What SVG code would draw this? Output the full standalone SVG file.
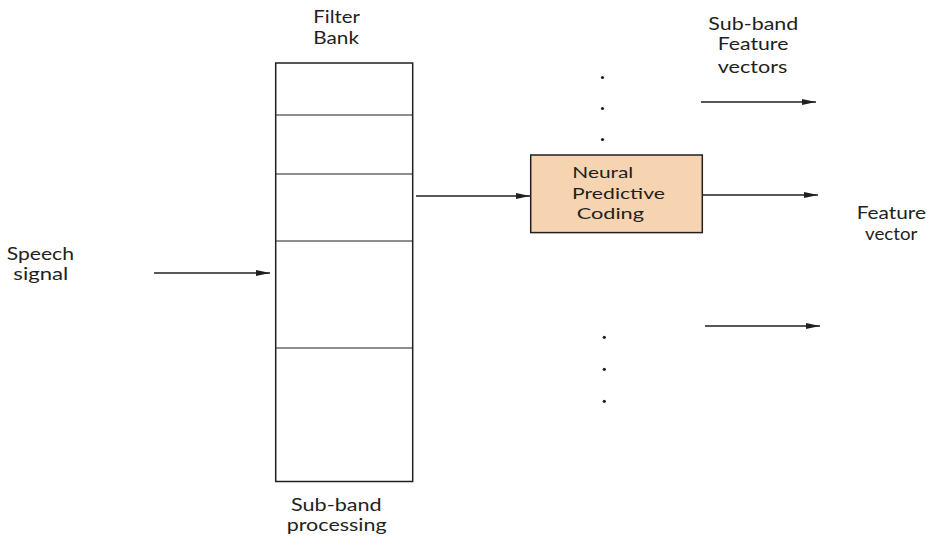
<svg xmlns="http://www.w3.org/2000/svg" width="934" height="537" viewBox="0 0 934 537">
  <style>
    .lbl { font-family: Lato, "Open Sans", "Liberation Sans", sans-serif; font-size: 16.5px; fill: #231f20; }
    .small { font-size: 15px; }
    .box { fill: none; stroke: #231f20; stroke-width: 1.5; }
    .div { stroke: #231f20; stroke-width: 1.2; }
    .npc { fill: #f7d4b1; stroke: #231f20; stroke-width: 1.5; }
    .wire { fill: none; stroke: #231f20; stroke-width: 1.3; marker-end: url(#arrow); }
    .dot { fill: #231f20; }
  </style>
  <defs>
    <marker id="arrow" markerUnits="userSpaceOnUse" markerWidth="14" markerHeight="6" refX="14" refY="3" orient="auto">
      <path d="M0,0 L14,3 L0,6 z" fill="#231f20"/>
    </marker>
  </defs>
  <rect width="934" height="537" fill="#ffffff"/>

  <!-- Filter bank with sub-band divisions -->
  <g id="filter-bank">
    <text class="lbl" x="313.3" y="23" textLength="46.7" lengthAdjust="spacingAndGlyphs">Filter</text>
    <text class="lbl" x="313.3" y="43.5" textLength="45.7" lengthAdjust="spacingAndGlyphs">Bank</text>
    <rect class="box" x="275.7" y="63" width="137" height="418.5"/>
    <line class="div" x1="275.7" y1="115" x2="412.7" y2="115"/>
    <line class="div" x1="275.7" y1="174" x2="412.7" y2="174"/>
    <line class="div" x1="275.7" y1="241" x2="412.7" y2="241"/>
    <line class="div" x1="275.7" y1="348" x2="412.7" y2="348"/>
    <text class="lbl" x="291" y="511" textLength="90.7" lengthAdjust="spacingAndGlyphs">Sub-band</text>
    <text class="lbl" x="286.7" y="531" textLength="100" lengthAdjust="spacingAndGlyphs">processing</text>
  </g>

  <!-- Input label -->
  <g id="speech-signal">
    <text class="lbl" x="6.7" y="259.5" textLength="67.3" lengthAdjust="spacingAndGlyphs">Speech</text>
    <text class="lbl" x="13.3" y="279.5" textLength="55" lengthAdjust="spacingAndGlyphs">signal</text>
  </g>

  <!-- Neural predictive coding block -->
  <g id="npc">
    <rect class="npc" x="530.7" y="155" width="171.6" height="77.6"/>
    <text class="lbl small" x="572.3" y="178.3" textLength="61" lengthAdjust="spacingAndGlyphs">Neural</text>
    <text class="lbl small" x="572" y="198.5" textLength="93" lengthAdjust="spacingAndGlyphs">Predictive</text>
    <text class="lbl small" x="576.7" y="219" textLength="67.3" lengthAdjust="spacingAndGlyphs">Coding</text>
  </g>

  <!-- Output labels -->
  <g id="subband-features">
    <text class="lbl" x="708.3" y="29.5" textLength="90" lengthAdjust="spacingAndGlyphs">Sub-band</text>
    <text class="lbl" x="717.7" y="50" textLength="70.7" lengthAdjust="spacingAndGlyphs">Feature</text>
    <text class="lbl" x="717.7" y="72.5" textLength="69.7" lengthAdjust="spacingAndGlyphs">vectors</text>
  </g>
  <g id="feature-vector">
    <text class="lbl" x="856.7" y="218.5" textLength="69.3" lengthAdjust="spacingAndGlyphs">Feature</text>
    <text class="lbl" x="865" y="239.5" textLength="52.3" lengthAdjust="spacingAndGlyphs">vector</text>
  </g>

  <!-- Ellipsis dots for the other sub-bands -->
  <g id="ellipsis-top">
    <circle class="dot" cx="602.5" cy="77.5" r="1.6"/>
    <circle class="dot" cx="602.5" cy="108.5" r="1.6"/>
    <circle class="dot" cx="602.5" cy="139.5" r="1.6"/>
  </g>
  <g id="ellipsis-bottom">
    <circle class="dot" cx="604.3" cy="337.3" r="1.6"/>
    <circle class="dot" cx="604.3" cy="369.3" r="1.6"/>
    <circle class="dot" cx="604.3" cy="401.3" r="1.6"/>
  </g>

  <!-- Connectors -->
  <g id="connectors">
    <path class="wire" d="M154,273 H270"/>
    <path class="wire" d="M416,196 H530"/>
    <path class="wire" d="M703,195 H818"/>
    <path class="wire" d="M701,102 H816"/>
    <path class="wire" d="M705,326 H820"/>
  </g>
</svg>
